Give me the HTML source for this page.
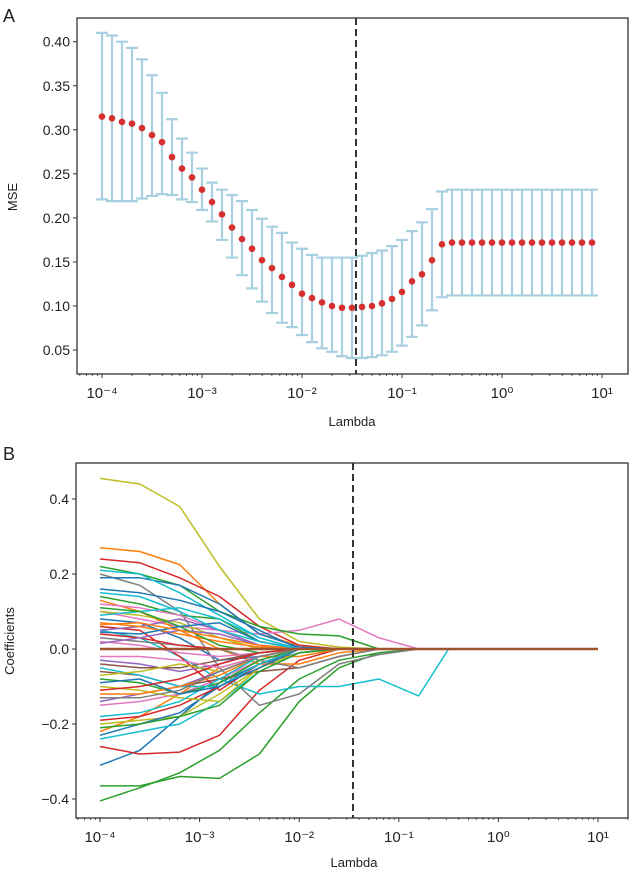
<!DOCTYPE html>
<html><head><meta charset="utf-8">
<style>
html,body{margin:0;padding:0;background:#fff;}
svg{display:block;font-family:"Liberation Sans","DejaVu Sans",sans-serif;}
</style></head>
<body>
<svg id="fig" width="630" height="875" viewBox="0 0 630 875">
  <text x="3" y="22" font-size="18" fill="#222">A</text>
  <text x="3" y="460" font-size="18" fill="#222">B</text>
  <g id="chartA"></g>
  <g id="chartB"></g>
</svg>
<script>
// ---------- Panel A data ----------
const mseLogLambda = Array.from({length:50},(_,i)=>-4+i*0.1);
const mseMean = [0.315,0.313,0.309,0.307,0.302,0.294,0.286,0.269,0.256,0.246,0.232,0.218,0.204,0.189,0.176,0.165,0.152,0.143,0.133,0.124,0.114,0.109,0.104,0.100,0.098,0.098,0.099,0.100,0.103,0.108,0.116,0.128,0.136,0.152,0.170,0.172,0.172,0.172,0.172,0.172,0.172,0.172,0.172,0.172,0.172,0.172,0.172,0.172,0.172,0.172];
const mseUpper = [0.410,0.407,0.400,0.393,0.380,0.362,0.342,0.312,0.290,0.274,0.256,0.240,0.232,0.226,0.219,0.209,0.199,0.190,0.183,0.172,0.165,0.158,0.155,0.155,0.155,0.155,0.157,0.160,0.163,0.168,0.175,0.185,0.195,0.210,0.230,0.232,0.232,0.232,0.232,0.232,0.232,0.232,0.232,0.232,0.232,0.232,0.232,0.232,0.232,0.232];
const mseLower = [0.221,0.219,0.219,0.219,0.222,0.225,0.227,0.226,0.221,0.218,0.209,0.196,0.175,0.155,0.135,0.120,0.105,0.092,0.081,0.076,0.067,0.059,0.052,0.048,0.043,0.041,0.041,0.042,0.044,0.048,0.055,0.065,0.078,0.095,0.110,0.112,0.112,0.112,0.112,0.112,0.112,0.112,0.112,0.112,0.112,0.112,0.112,0.112,0.112,0.112];
const mseYTicks = [0.05,0.10,0.15,0.20,0.25,0.30,0.35,0.40];
const xDecades = [-4,-3,-2,-1,0,1];
const bestLogLambda = -1.46;

// ---------- Panel B data ----------
const coefLogGrid = [-4,-3.6,-3.2,-2.8,-2.4,-2,-1.6,-1.2,-0.8,-0.5];
const coefYTicks = [-0.4,-0.2,0.0,0.2,0.4];
const coefColors = ['#bcbd22','#2ca02c','#2ca02c','#1f77b4','#d62728','#ff7f0e','#d62728','#17becf','#e377c2','#7f7f7f','#2ca02c','#1f77b4','#17becf','#ff7f0e','#9467bd','#bcbd22','#1f77b4','#17becf','#d62728','#e377c2','#8c564b','#2ca02c','#ff7f0e','#e377c2','#bcbd22','#1f77b4','#d62728','#9467bd','#7f7f7f','#17becf','#2ca02c','#bcbd22','#ff7f0e','#1f77b4','#17becf','#e377c2','#2ca02c','#d62728','#9467bd','#1f77b4','#ff7f0e','#8c564b','#17becf','#bcbd22','#9467bd','#2ca02c','#d62728','#1f77b4','#e377c2','#ff7f0e','#7f7f7f','#17becf'];
const coefPaths = [
[0.455,0.44,0.38,0.22,0.08,0.02,0.005,0,0,0],
[-0.405,-0.37,-0.33,-0.27,-0.17,-0.08,-0.03,-0.01,0,0],
[-0.365,-0.365,-0.34,-0.345,-0.28,-0.14,-0.05,-0.01,0,0],
[-0.31,-0.27,-0.18,-0.09,-0.04,-0.01,0,0,0,0],
[-0.26,-0.28,-0.275,-0.23,-0.11,-0.03,0,0,0,0],
[0.27,0.26,0.225,0.12,0.04,0.01,0,0,0,0],
[0.24,0.23,0.19,0.14,0.06,0.01,0,0,0,0],
[0.05,0.03,-0.02,-0.08,-0.12,-0.1,-0.1,-0.08,-0.125,0],
[0.1,0.08,0.06,0.05,0.04,0.05,0.08,0.03,0,0],
[0.2,0.17,0.1,-0.05,-0.15,-0.12,-0.04,-0.015,0,0],
[0.22,0.2,0.17,0.1,0.06,0.04,0.035,0,0,0],
[0.19,0.19,0.17,0.12,0.04,0.005,0,0,0,0],
[0.21,0.2,0.15,0.09,0.03,0,0,0,0,0],
[-0.22,-0.18,-0.12,-0.05,-0.02,-0.02,0,0,0,0],
[-0.14,-0.12,-0.1,-0.06,-0.02,0,0,0,0,0],
[-0.2,-0.19,-0.18,-0.12,-0.05,-0.01,0,0,0,0],
[-0.23,-0.2,-0.17,-0.1,-0.04,0,0,0,0,0],
[-0.24,-0.22,-0.2,-0.14,-0.06,-0.01,0,0,0,0],
[-0.19,-0.18,-0.15,-0.1,-0.04,0,0,0,0,0],
[-0.15,-0.14,-0.12,-0.08,-0.03,0,0,0,0,0],
[-0.06,-0.07,-0.1,-0.08,-0.06,-0.05,-0.02,0,0,0],
[0.14,0.12,0.09,0.08,0.02,0,0,0,0,0],
[0.13,0.1,0.05,0,-0.04,-0.04,-0.01,0,0,0],
[0.12,0.11,0.09,0.05,0.01,0,0,0,0,0],
[0.1,0.09,0.07,0.03,0,0,0,0,0,0],
[0.08,0.07,0.03,-0.03,-0.02,0,0,0,0,0],
[0.06,0.05,-0.02,-0.11,-0.04,0,0,0,0,0],
[0.05,0.06,0.08,0.05,0.01,0,0,0,0,0],
[0.03,0.02,0.01,0,-0.03,-0.05,-0.02,0,0,0],
[-0.05,-0.07,-0.1,-0.1,-0.04,0,0,0,0,0],
[-0.08,-0.09,-0.12,-0.09,-0.03,0,0,0,0,0],
[-0.1,-0.11,-0.13,-0.14,-0.05,0,0,0,0,0],
[-0.12,-0.12,-0.1,-0.07,-0.02,0,0,0,0,0],
[0.16,0.15,0.13,0.1,0.05,0,0,0,0,0],
[-0.18,-0.17,-0.14,-0.08,-0.02,0,0,0,0,0],
[0.02,0.01,-0.01,-0.02,-0.01,0,0,0,0,0],
[-0.21,-0.2,-0.18,-0.15,-0.06,-0.01,0,0,0,0],
[0.04,0.03,0.01,0,0,0,0,0,0,0],
[-0.03,-0.04,-0.06,-0.04,-0.01,0,0,0,0,0],
[-0.09,-0.08,-0.12,-0.1,-0.05,0,0,0,0,0],
[0.07,0.06,0.04,0.02,0.005,0,0,0,0,0],
[-0.04,-0.05,-0.05,-0.03,-0.01,0,0,0,0,0],
[0.09,0.1,0.11,0.08,0.03,0,0,0,0,0],
[-0.07,-0.06,-0.04,-0.06,-0.02,0,0,0,0,0],
[0.015,0.03,0.05,0.04,0.01,0,0,0,0,0],
[0.11,0.1,0.06,0.01,-0.01,0,0,0,0,0],
[-0.11,-0.1,-0.08,-0.04,-0.01,0,0,0,0,0],
[0.045,0.04,0.06,0.07,0.02,0,0,0,0,0],
[-0.02,-0.02,-0.03,-0.05,-0.02,0,0,0,0,0],
[0.065,0.07,0.05,0.03,0.01,0,0,0,0,0],
[-0.13,-0.13,-0.11,-0.06,-0.02,0,0,0,0,0],
[0.15,0.14,0.1,0.05,0.02,0,0,0,0,0]
];

const NS='http://www.w3.org/2000/svg';
function mk(tag,attrs,parent){const e=document.createElementNS(NS,tag);for(const k in attrs)e.setAttribute(k,attrs[k]);parent.appendChild(e);return e;}
const supMap={'-':'\u207B','0':'\u2070','1':'\u00B9','2':'\u00B2','3':'\u00B3','4':'\u2074'};
function sup(d){return String(d).split('').map(c=>supMap[c]).join('');}

function drawXAxis(g,xs,yBase,left,right){
  for(let d=-5;d<=1;d++){
    for(let m=2;m<=9;m++){
      const lx=d+Math.log10(m); const px=xs(lx);
      if(px<left||px>right) continue;
      const t=mk('line',{x1:px,x2:px,y1:yBase,y2:yBase+2,stroke:'#333','stroke-width':0.8},g);
      
      
    }
  }
  xDecades.forEach(d=>{
    const px=xs(d);
    const t=mk('line',{x1:px,x2:px,y1:yBase,y2:yBase+4,stroke:'#333','stroke-width':1},g);
    
    
    const tx=mk('text',{x:px,y:yBase+24,'font-size':15,'text-anchor':'middle',fill:'#222'},g);
    tx.textContent='10'+sup(d);
    
    
  });
}

// ---------- Panel A ----------
(function(){
  const g=document.getElementById('chartA');
  const L=77,R=628,T=18,B=374;
  const xs=v=>102+(v+4)*100;
  const ys=v=>41.7+(0.40-v)/0.05*44.05;
  mk('rect',{x:L,y:T,width:R-L,height:B-T,fill:'none',stroke:'#222','stroke-width':1.2},g);
  mseYTicks.forEach(v=>{
    const y=ys(v);
    const t=mk('line',{x1:L-4,x2:L,y1:y,y2:y,stroke:'#333'},g);
    
    
    const tx=mk('text',{x:L-7,y:y+5,'font-size':14,'text-anchor':'end',fill:'#222'},g);
    tx.textContent=v.toFixed(2);
    
    
  });
  drawXAxis(g,xs,B,L,R);
  const yl=mk('text',{x:0,y:0,'font-size':13,'text-anchor':'middle',fill:'#222',transform:'translate(17,197) rotate(-90)'},g);
  yl.textContent='MSE';
  
  
  const xl=mk('text',{x:352,y:426,'font-size':13,'text-anchor':'middle',fill:'#222'},g);
  xl.textContent='Lambda';
  
  
  mseLogLambda.forEach((lx,i)=>{
    const x=xs(lx),y1=ys(mseUpper[i]),y2=ys(mseLower[i]);
    const eb=mk('path',{d:`M${x},${y1}V${y2}M${x-6},${y1}H${x+6}M${x-6},${y2}H${x+6}`,stroke:'#a8d0e0','stroke-width':2.2,fill:'none'},g);
    
    
  });
  mseLogLambda.forEach((lx,i)=>{
    const c=mk('circle',{cx:xs(lx),cy:ys(mseMean[i]),r:3.3,fill:'#d62f2f'},g);
    
    
  });
  const dl=mk('line',{x1:xs(bestLogLambda),x2:xs(bestLogLambda),y1:T,y2:B,stroke:'#333','stroke-width':2,'stroke-dasharray':'7,4'},g);
  
  
})();

// ---------- Panel B ----------
(function(){
  const g=document.getElementById('chartB');
  const L=76,R=628,T=463,B=818;
  const xs=v=>100+(v+4)*99.6;
  const ys=v=>649-v/0.1*37.5;
  mk('rect',{x:L,y:T,width:R-L,height:B-T,fill:'none',stroke:'#222','stroke-width':1.2},g);
  coefYTicks.forEach(v=>{
    const y=ys(v);
    const t=mk('line',{x1:L-4,x2:L,y1:y,y2:y,stroke:'#333'},g);
    
    
    const tx=mk('text',{x:L-7,y:y+5,'font-size':14,'text-anchor':'end',fill:'#222'},g);
    tx.textContent=(v<0?'\u2212':'')+Math.abs(v).toFixed(1);
    
    
  });
  drawXAxis(g,xs,B,L,R);
  const yl=mk('text',{x:0,y:0,'font-size':13,'text-anchor':'middle',fill:'#222',transform:'translate(14,641) rotate(-90)'},g);
  yl.textContent='Coefficients';
  
  
  const xl=mk('text',{x:354,y:867,'font-size':13,'text-anchor':'middle',fill:'#222'},g);
  xl.textContent='Lambda';
  
  
  function pathD(pts){
    // linear segments (matplotlib-like polyline)
    return pts.map((p,i)=>(i?'L':'M')+p[0].toFixed(1)+','+p[1].toFixed(1)).join('');
  }
  coefPaths.forEach((vals,k)=>{
    const pts=vals.map((v,i)=>[xs(coefLogGrid[i]),ys(v)]);
    pts.push([xs(1),ys(0)]);
    const p=mk('path',{d:pathD(pts),fill:'none',stroke:coefColors[k%coefColors.length],'stroke-width':1.5,'stroke-linejoin':'round'},g);
    
    
  });
  const z=mk('line',{x1:xs(-4),x2:xs(1),y1:ys(0),y2:ys(0),stroke:'#a0522d','stroke-width':2.5},g);
  
  
  const dl=mk('line',{x1:xs(bestLogLambda),x2:xs(bestLogLambda),y1:T,y2:B,stroke:'#333','stroke-width':2,'stroke-dasharray':'7,4'},g);
  
  
})();
</script>
</body></html>
